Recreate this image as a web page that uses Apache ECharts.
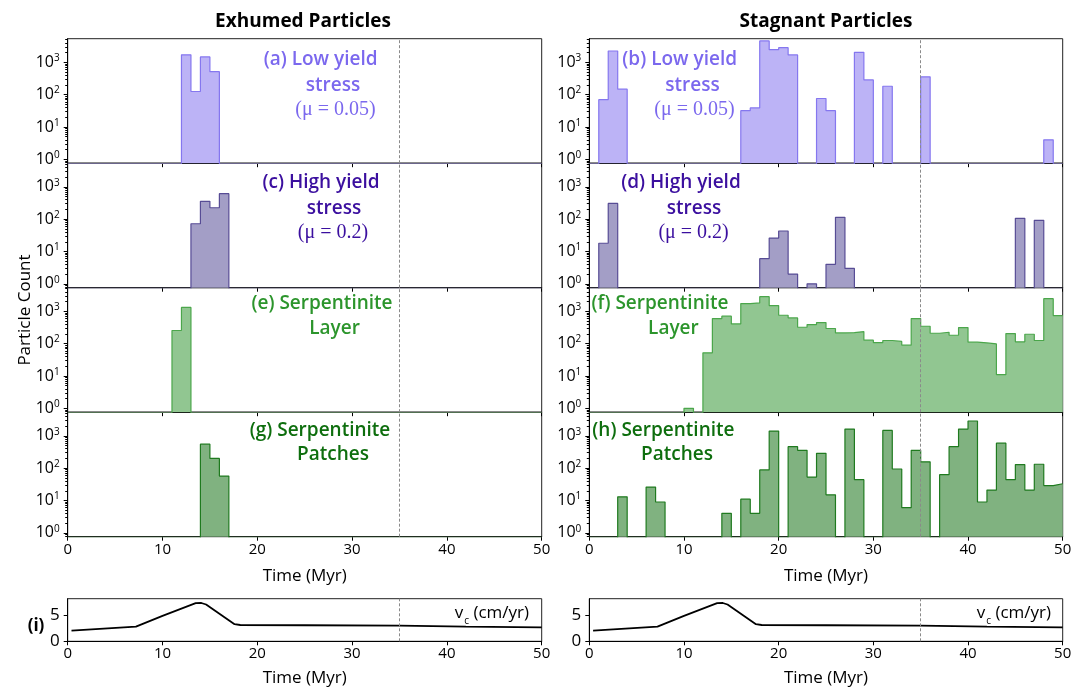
<!DOCTYPE html>
<html><head><meta charset="utf-8">
<script src="https://cdn.jsdelivr.net/npm/echarts@6/dist/echarts.min.js"></script>
<style>html,body{margin:0;padding:0;background:#fff}#c{width:1089px;height:688px}</style>
</head><body><div id="c"></div>
<script>
// ---- data ----
const binEdges = [0,1,2,3,4,5,6,7,8,9,10,11,12,13,14,15,16,17,18,19,20,21,22,23,24,25,26,27,28,29,30,31,32,33,34,35,36,37,38,39,40,41,42,43,44,45,46,47,48,49,50];
//                 0 1 2 3 4 5 6 7 8 9 10 11 12 13 14 15 16 17 18 19 20 21 22 23 24 25 26 27 28 29 30 31 32 33 34 35 36 37 38 39 40 41 42 43 44 45 46 47 48 49
const exhumedLow      = [0,0,0,0,0,0,0,0,0,0,0,0,1700,125,1470,515,0,0,0,0,0,0,0,0,0,0,0,0,0,0,0,0,0,0,0,0,0,0,0,0,0,0,0,0,0,0,0,0,0,0];
const exhumedHigh     = [0,0,0,0,0,0,0,0,0,0,0,0,0,72,355,225,615,0,0,0,0,0,0,0,0,0,0,0,0,0,0,0,0,0,0,0,0,0,0,0,0,0,0,0,0,0,0,0,0,0];
const exhumedLayer    = [0,0,0,0,0,0,0,0,0,0,0,255,1320,0,0,0,0,0,0,0,0,0,0,0,0,0,0,0,0,0,0,0,0,0,0,0,0,0,0,0,0,0,0,0,0,0,0,0,0,0];
const exhumedPatches  = [0,0,0,0,0,0,0,0,0,0,0,0,0,0,550,200,57,0,0,0,0,0,0,0,0,0,0,0,0,0,0,0,0,0,0,0,0,0,0,0,0,0,0,0,0,0,0,0,0,0];
const stagnantLow     = [0,70,2240,148,0,0,0,0,0,0,0,0,0,0,0,0,32,39,4570,2450,2840,1690,0,0,76,32,0,0,2040,285,0,182,0,0,0,355,0,0,0,0,0,0,0,0,0,0,0,0,4,0];
const stagnantHigh    = [0,18,307,0,0,0,0,0,0,0,0,0,0,0,0,0,0,0,6,26,43,2,0,1,0,4,114,3,0,0,0,0,0,0,0,0,0,0,0,0,0,0,0,0,0,106,0,92,0,0];
const stagnantLayer   = [0,0,0,0,0,0,0,0,0,0,1,0,52,595,705,408,1730,1820,2840,1500,755,625,322,390,450,294,215,220,237,128,108,125,117,90,595,345,210,225,182,315,111,105,98,11,205,114,195,125,2460,740];
const stagnantPatches = [0,0,0,13,0,0,26,9,0,0,0,0,0,0,4,0,11,4,88,1400,0,460,355,53,287,15,0,1620,44,0,0,1470,94,6,355,157,0,63,460,1620,2870,9,21,590,44,129,21,132,29,33];
const vTime = [0.4, 7.2, 10, 13.5, 14.1, 14.6, 17.6, 18.2, 25, 35, 42, 50];
const vRate = [2.03, 2.78, 4.85, 7.25, 7.28, 7.0, 3.25, 3.1, 3.05, 2.97, 2.8, 2.66];
const logTicks = [1, 10, 100, 1000];
const logMinorTicks = [0.8,0.9,2,3,4,5,6,7,8,9,20,30,40,50,60,70,80,90,200,300,400,500,600,700,800,900,2000,3000,4000,5000];
const timeTicks = [0, 10, 20, 30, 40, 50];
const vTicks = [0, 5];
const onsetTime = 35;

// ---- layout/style ----
const FONT = 'Open Sans';
const YMIN = 0.76, YMAX = 5370;
const colX = [67.7, 589.3], colW = [474, 473.4];
const rowTop = [38.7, 163.2, 287.7, 412.2], rowH = 124.5;
const styles = {
  low:     {fill:'#bcb3f6', edge:'#8577ef'},
  high:    {fill:'#a39ec6', edge:'#574c95'},
  layer:   {fill:'#91c691', edge:'#4ba64b'},
  patches: {fill:'#80b280', edge:'#1f7a1f'}
};
const panels = [
  {d: exhumedLow, c:0, r:0, s:'low'},
  {d: exhumedHigh, c:0, r:1, s:'high'},
  {d: exhumedLayer, c:0, r:2, s:'layer'},
  {d: exhumedPatches, c:0, r:3, s:'patches'},
  {d: stagnantLow, c:1, r:0, s:'low'},
  {d: stagnantHigh, c:1, r:1, s:'high'},
  {d: stagnantLayer, c:1, r:2, s:'layer'},
  {d: stagnantPatches, c:1, r:3, s:'patches'}
];

const grid = [], xAxis = [], yAxis = [], series = [];
const markLine = {silent:true, symbol:'none', label:{show:false}, animation:false,
  lineStyle:{type:[3,2], color:'#8a8a8a', width:1}, data:[{xAxis: onsetTime}]};
const tickLabel = {fontFamily: FONT, fontSize: 15, color:'#000'};

function logFmt(v){
  const e = Math.log10(v);
  if (Math.abs(e - Math.round(e)) > 1e-6) return '';
  return '{b|10}{s|' + Math.round(e) + '}';
}

panels.forEach((p, i) => {
  const bottom = p.r === 3;
  grid.push({left: colX[p.c], top: rowTop[p.r], width: colW[p.c], height: rowH,
    show:true, borderColor:'#222', borderWidth:1, backgroundColor:'transparent'});
  xAxis.push({gridIndex:i, type:'value', min:0, max:50, interval:10,
    axisLine:{show:true, onZero:false, lineStyle:{color:'#000', width:1}},
    axisTick:{show:true, length:4, lineStyle:{color:'#000'}},
    axisLabel:{show: bottom, margin:6, ...tickLabel},
    splitLine:{show:false},
    name: bottom ? 'Time (Myr)' : '', nameLocation:'middle', nameGap:31,
    nameTextStyle:{fontFamily:FONT, fontSize:17, color:'#000'}});
  const yi = yAxis.length;
  yAxis.push({gridIndex:i, type:'log', logBase:10, min:YMIN, max:YMAX, position:'left',
    axisLine:{show:true, lineStyle:{color:'#000', width:1}},
    axisTick:{show:true, length:4, customValues: logTicks, lineStyle:{color:'#000'}},
    axisLabel:{show:true, customValues: logTicks, margin:8, formatter: logFmt,
      rich:{ b:{fontFamily:FONT, fontSize:16, color:'#000', lineHeight:18},
             s:{fontFamily:FONT, fontSize:10, color:'#000', verticalAlign:'top', lineHeight:10} }},
    splitLine:{show:false}});
  yAxis.push({gridIndex:i, type:'log', logBase:10, min:YMIN, max:YMAX, position:'left',
    axisLine:{show:false},
    axisTick:{show:true, length:2.5, customValues: logMinorTicks, lineStyle:{color:'#000', width:1}},
    axisLabel:{show:false}, splitLine:{show:false}});
  const st = styles[p.s];
  const data = binEdges.map((x, k) => {
    const v = k < p.d.length ? p.d[k] : p.d[p.d.length - 1];
    return [x, v > 0 ? v : 1e-3];
  });
  series.push({type:'line', xAxisIndex:i, yAxisIndex:yi, step:'end', symbol:'none', clip:true,
    data, lineStyle:{color: st.edge, width:1.2},
    areaStyle:{color: st.fill, opacity:1, origin:'start'},
    markLine});
});

// velocity panels
[0,1].forEach(c => {
  const gi = grid.length;
  grid.push({left: colX[c], top: 598.7, width: colW[c], height: 42.6,
    show:true, borderColor:'#222', borderWidth:1, backgroundColor:'transparent'});
  xAxis.push({gridIndex:gi, type:'value', min:0, max:50, interval:10,
    axisLine:{show:true, onZero:false, lineStyle:{color:'#000'}},
    axisTick:{show:true, length:4, lineStyle:{color:'#000'}},
    axisLabel:{show:true, margin:5, customValues: timeTicks, ...tickLabel},
    splitLine:{show:false},
    name:'Time (Myr)', nameLocation:'middle', nameGap:28,
    nameTextStyle:{fontFamily:FONT, fontSize:17, color:'#000'}});
  const yi = yAxis.length;
  yAxis.push({gridIndex:gi, type:'value', min:0, max:8.1, interval:5, position:'left',
    axisLine:{show:true, lineStyle:{color:'#000'}},
    axisTick:{show:true, length:4, customValues: vTicks, lineStyle:{color:'#000'}},
    axisLabel:{show:true, margin:8, customValues: vTicks, fontFamily:FONT, fontSize:17, color:'#000'},
    splitLine:{show:false}});
  series.push({type:'line', xAxisIndex:gi, yAxisIndex:yi, symbol:'none',
    data: vTime.map((t, k) => [t, vRate[k]]),
    lineStyle:{color:'#000', width:1.8}, markLine});
});

// ---- text ----
function txt(x, y, text, color, size, weight, family){
  return {type:'text', x, y, silent:true, z:100,
    style:{text, fill:color, fontSize:size, fontWeight:weight||'normal', fontFamily:family||FONT,
      align:'center', verticalAlign:'middle', textAlign:'center', textVerticalAlign:'middle'}};
}
const cLow='#7b68ee', cHigh='#3b0f9f', cLayer='#2c952c', cPatch='#0e6e0e';
const SERIF = 'Liberation Serif';
const graphics = [
  txt(303, 22, 'Exhumed Particles', '#000', 19, 'bold'),
  txt(826, 22, 'Stagnant Particles', '#000', 19, 'bold'),
  txt(320.6, 60, '(a) Low yield', cLow, 19, 600),
  txt(333, 86, 'stress', cLow, 19, 600),
  txt(335.5, 110, '(\u03bc = 0.05)', cLow, 20, 'normal', SERIF),
  txt(321, 183, '(c) High yield', cHigh, 19, 600),
  txt(334, 209, 'stress', cHigh, 19, 600),
  txt(333, 233, '(\u03bc = 0.2)', cHigh, 20, 'normal', SERIF),
  txt(322, 304, '(e) Serpentinite', cLayer, 19, 600),
  txt(334.5, 329, 'Layer', cLayer, 19, 600),
  txt(320, 431, '(g) Serpentinite', cPatch, 19, 600),
  txt(333, 455, 'Patches', cPatch, 19, 600),
  txt(679.7, 60, '(b) Low yield', cLow, 19, 600),
  txt(692.5, 86, 'stress', cLow, 19, 600),
  txt(694.5, 110, '(\u03bc = 0.05)', cLow, 20, 'normal', SERIF),
  txt(681, 183, '(d) High yield', cHigh, 19, 600),
  txt(694, 209, 'stress', cHigh, 19, 600),
  txt(693.6, 233, '(\u03bc = 0.2)', cHigh, 20, 'normal', SERIF),
  txt(660, 304, '(f) Serpentinite', cLayer, 19, 600),
  txt(673.4, 329, 'Layer', cLayer, 19, 600),
  txt(663.4, 431, '(h) Serpentinite', cPatch, 19, 600),
  txt(677, 455, 'Patches', cPatch, 19, 600),
  txt(36, 626, '(i)', '#000', 17, 'bold'),
  {type:'text', x:25, y:310, rotation:Math.PI/2, silent:true, z:100,
    style:{text:'Particle Count', fill:'#000', fontSize:17, fontFamily:FONT,
      align:'center', verticalAlign:'middle', textAlign:'center', textVerticalAlign:'middle'}}
];
[529, 1051].forEach(x => {
  graphics.push({type:'text', x, y:613, silent:true, z:100,
    style:{text:'{a|v}{c|c}{a| (cm/yr)}', align:'right', verticalAlign:'middle',
      textAlign:'right', textVerticalAlign:'middle',
      rich:{a:{fontFamily:FONT, fontSize:17, fill:'#000', color:'#000', lineHeight:20},
            c:{fontFamily:FONT, fontSize:10, fill:'#000', color:'#000', verticalAlign:'bottom', lineHeight:10, padding:[0,0,-3,1]}}}});
});

const chart = echarts.init(document.getElementById('c'), null, {renderer:'canvas'});
chart.setOption({animation:false, backgroundColor:'#fff', grid, xAxis, yAxis, series, graphic: graphics});
</script></body></html>
